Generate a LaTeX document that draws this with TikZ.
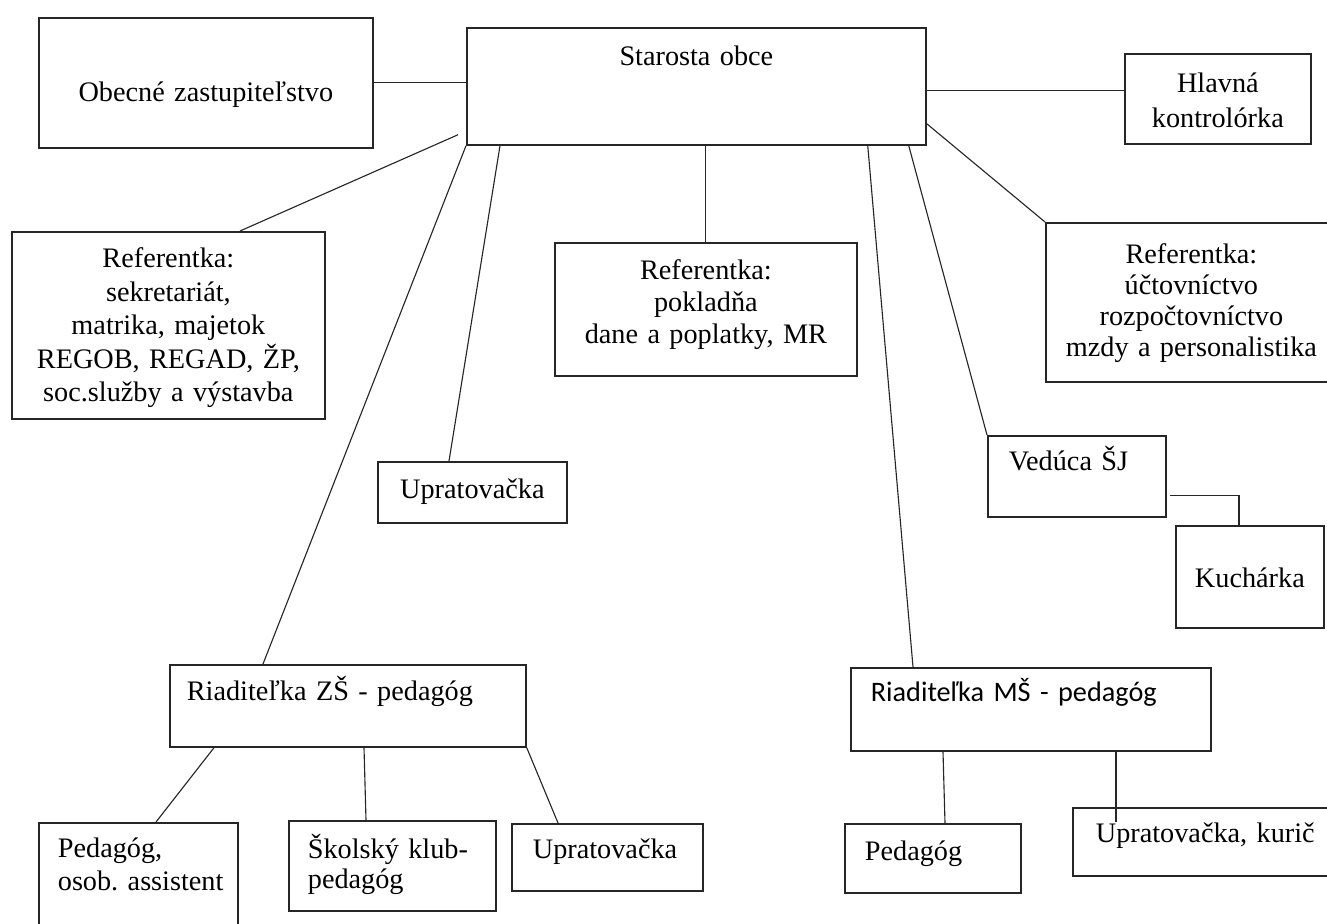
\documentclass[tikz,border=0pt]{standalone}
\usepackage{fontspec}
\setmainfont{Liberation Serif}
\newfontfamily\calibri{Carlito}
\usetikzlibrary{calc}

\tikzset{
  box/.style={draw=black!85, line width=0.7pt, anchor=north west, inner ysep=0pt,
    font=\fontsize{11.3}{13.4}\selectfont},
  mid/.style={box, inner xsep=0pt, align=center},
  lft/.style={box, align=left},
  link/.style={draw=black!85, line width=0.45pt},
}

\begin{document}
\begin{tikzpicture}[x=0.4pt, y=-0.4pt]
    \useasboundingbox (0,0) rectangle (1327,924);

    % top row
    \node[mid, text width=133.6pt, text height=33.6pt, text depth=18.4pt] (ob) at (38,17) {Obecné zastupiteľstvo};
    \node[mid, text width=183.6pt, text height=15.2pt, text depth=31.6pt] (st) at (466,27) {Starosta obce};
    \node[mid, text width=74.4pt, text height=15.6pt, text depth=20.4pt,
      font=\fontsize{11.3}{14}\selectfont] (hl) at (1124,53) {Hlavná\\kontrolórka};

    % referentky
    \node[mid, text width=125.2pt, text height=14.4pt, text depth=60.4pt] (refL) at (11,231)
      {Referentka:\\sekretariát,\\matrika, majetok\\REGOB, REGAD, ŽP,\\soc.služby a výstavba};
    \node[mid, text width=120.8pt, text height=14.8pt, text depth=38.4pt,
      font=\fontsize{11.3}{12.8}\selectfont] (refM) at (554,242)
      {Referentka:\\pokladňa\\dane a poplatky, MR};
    \node[mid, text width=116.4pt, text height=16.4pt, text depth=47.2pt,
      font=\fontsize{11.3}{12.3}\selectfont] (refR) at (1045,222)
      {Referentka:\\účtovníctvo\\rozpočtovníctvo\\mzdy a personalistika};

    % middle
    \node[mid, text width=75.6pt, text height=14.8pt, text depth=9.6pt] (up) at (377,461) {Upratovačka};
    \node[lft, inner xsep=8.4pt, text width=54.4pt, text height=14pt, text depth=18.4pt] (ve) at (987,435) {Vedúca ŠJ};
    \node[mid, text width=59.2pt, text height=24.8pt, text depth=16pt] (ku) at (1175,525) {Kuchárka};
    \node[lft, inner xsep=6.8pt, text width=128.8pt, text height=14.4pt, text depth=18.4pt] (zs) at (169,664) {Riaditeľka ZŠ - pedagóg};
    \node[lft, inner xsep=8pt, text width=128pt, text height=13.6pt, text depth=19.6pt,
      font=\calibri\fontsize{11.3}{13.4}\selectfont] (ms) at (850,667) {Riaditeľka MŠ - pedagóg};

    % bottom row
    \node[lft, inner xsep=7.6pt, text width=64.4pt, text height=14pt, text depth=41.2pt,
      font=\fontsize{11.3}{13.2}\selectfont] (po) at (38,822) {Pedagóg,\\\mbox{osob.\ assistent}};
    \node[lft, inner xsep=7.6pt, text width=67.6pt, text height=15.2pt, text depth=20.8pt,
      font=\fontsize{11.3}{11.8}\selectfont] (sk) at (288,820) {\mbox{Školský klub-}\\pedagóg};
    \node[lft, inner xsep=8.4pt, text width=59.6pt, text height=14pt, text depth=12.8pt] (u2) at (511,823) {Upratovačka};
    \node[lft, inner xsep=8pt, text width=54.4pt, text height=14.8pt, text depth=12.8pt] (pm) at (844,823) {Pedagóg};
    \node[lft, inner xsep=9.2pt, text width=88.8pt, text height=14pt, text depth=13.2pt] (uk) at (1072,807) {Upratovačka, kurič};

    % links from starosta
    \draw[link] (ob.east) -- (ob.east -| st.west);
    \draw[link] ($(st.east)+(0,4)$) coordinate (sth) -- (sth -| hl.west);
    \draw[link] ($(st.south west)+(-8,-11)$) -- ($(refL.north west)+(229,0)$);
    \draw[link] (st.south west) -- ($(zs.north west)+(94,0)$);
    \draw[link] ($(st.south west)+(34,0)$) -- ($(up.north west)+(72,0)$);
    \draw[link] (refM.north |- st.south) -- (refM.north);
    \draw[link] ($(st.south east)+(-59,0)$) -- ($(ms.north west)+(63,0)$);
    \draw[link] ($(st.south east)+(-18,0)$) -- (ve.north west);
    \draw[link] ($(st.south east)+(0,-22)$) -- (refR.north west);
    \draw[link] ($(ve.south east)+(3,-22)$) -| ($(ku.north west)+(64,0)$);

    % links below the directors
    \draw[link] ($(zs.south west)+(45,0)$) -- ($(po.north west)+(118,0)$);
    \draw[link] ($(zs.south west)+(195,0)$) -- ($(sk.north west)+(78,0)$);
    \draw[link] (zs.south east) -- ($(u2.north west)+(47,0)$);
    \draw[link] ($(ms.south west)+(93,0)$) -- ($(pm.north west)+(101,0)$);
    \draw[link] ($(ms.south west)+(266,0)$) -- ($(uk.north west)+(44,15)$);
\end{tikzpicture}
\end{document}
